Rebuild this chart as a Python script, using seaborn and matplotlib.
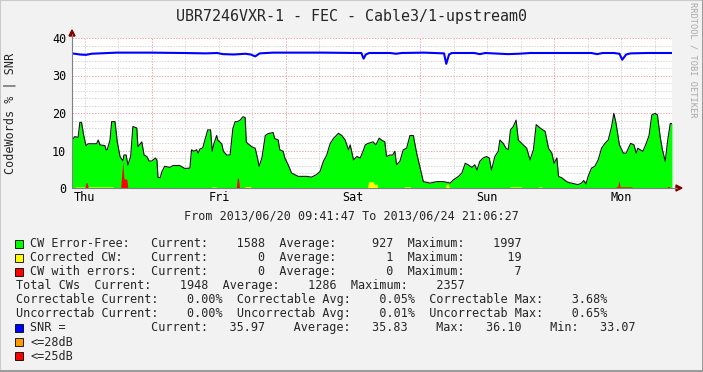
"""UBR7246VXR-1 FEC / SNR graph, RRDtool look-alike."""

import matplotlib

matplotlib.use("Agg")
import matplotlib.pyplot as plt
import numpy as np
import seaborn as sns
from matplotlib.lines import Line2D
from matplotlib.patches import Polygon, Rectangle

# time axis: hours since 2013/06/20 09:41:47
span_h = 107.411
days = ["Thu", "Fri", "Sat", "Sun", "Mon"]
noon_h = [2.303, 26.303, 50.303, 74.303, 98.303]
midnight_h = [14.303, 38.303, 62.303, 86.303]

# CW error-free (%)
ok_t = [0.0, 0.5, 1.1, 1.4, 1.7, 2.1, 2.5, 2.9, 4.4, 4.7,
        5.0, 5.9, 6.1, 6.3, 6.8, 7.1, 7.7, 8.1, 8.6, 9.1,
        9.3, 9.7, 10.0, 10.5, 10.9, 11.6, 11.8, 12.5, 12.9, 13.4,
        13.8, 14.3, 14.9, 15.2, 15.4, 15.8, 16.1, 16.6, 17.5, 18.1,
        19.3, 20.2, 21.1, 21.4, 21.8, 22.3, 22.6, 22.9, 23.4, 23.8,
        24.3, 24.8, 25.1, 25.4, 25.9, 26.1, 26.8, 27.1, 27.7, 28.3,
        28.8, 29.2, 29.6, 30.1, 30.6, 31.0, 31.2, 31.5, 32.2, 32.8,
        33.2, 33.5, 34.0, 34.6, 35.1, 36.0, 36.3, 36.9, 37.2, 37.8,
        38.1, 38.7, 39.3, 40.5, 42.0, 42.9, 43.8, 44.4, 45.0, 45.6,
        46.2, 46.8, 47.7, 48.3, 48.9, 49.5, 49.8, 50.4, 51.0, 51.6,
        52.1, 52.5, 53.0, 53.9, 54.4, 55.0, 55.4, 56.0, 56.3, 56.9,
        57.4, 57.8, 58.1, 58.7, 59.3, 59.9, 60.5, 61.1, 61.7, 62.4,
        62.9, 64.1, 65.3, 66.5, 67.7, 68.3, 69.2, 69.8, 70.4, 70.9,
        71.6, 72.1, 72.5, 73.0, 73.6, 74.2, 74.7, 75.1, 75.7, 76.3,
        76.6, 77.2, 77.7, 78.1, 78.5, 79.0, 79.5, 79.9, 80.5, 81.4,
        82.0, 82.6, 83.1, 83.8, 84.7, 85.3, 85.9, 86.3, 86.8, 87.1,
        87.7, 88.3, 88.8, 89.7, 90.6, 91.2, 91.6, 92.0, 92.4, 93.0,
        93.6, 94.2, 94.8, 95.4, 96.0, 96.6, 97.0, 97.4, 98.0, 98.7,
        99.2, 100.0, 100.6, 101.0, 101.3, 101.7, 102.2, 102.8, 103.3, 103.8,
        104.4, 104.8, 105.3, 105.7, 106.2, 106.6, 107.1, 107.4]
ok_v = [12.8, 13.7, 13.5, 17.5, 17.5, 14.0, 11.3, 11.8, 11.8, 12.8,
        11.5, 11.3, 10.2, 10.2, 12.8, 17.7, 17.7, 12.3, 8.4, 7.2,
        8.8, 8.8, 6.1, 8.4, 16.4, 16.0, 11.0, 12.3, 8.8, 8.4,
        7.2, 7.2, 8.0, 7.5, 2.8, 2.8, 4.4, 5.8, 5.5, 6.0,
        6.0, 5.2, 5.3, 10.2, 9.8, 10.2, 9.3, 10.4, 10.7, 12.8,
        15.5, 15.5, 9.8, 11.8, 14.0, 12.8, 11.8, 9.8, 8.8, 8.8,
        15.9, 17.7, 17.7, 18.1, 19.0, 18.8, 12.3, 11.8, 11.0, 10.6,
        8.0, 5.8, 8.0, 14.0, 14.5, 14.8, 13.2, 12.8, 10.2, 9.8,
        8.0, 6.2, 4.0, 3.1, 3.1, 2.9, 3.6, 4.4, 7.1, 8.8,
        11.8, 13.2, 14.6, 14.0, 12.8, 10.2, 11.5, 7.5, 8.4, 8.0,
        9.8, 11.5, 11.9, 12.3, 11.5, 13.3, 12.8, 12.3, 8.4, 8.8,
        8.8, 9.8, 6.2, 7.1, 10.2, 10.6, 14.0, 14.0, 9.3, 4.8,
        1.7, 1.3, 1.7, 1.7, 1.3, 2.2, 3.1, 4.0, 6.6, 6.2,
        5.5, 6.2, 4.8, 7.1, 8.0, 8.4, 8.0, 4.8, 8.4, 9.8,
        12.8, 11.9, 10.6, 10.2, 15.5, 16.4, 18.1, 12.8, 11.9, 10.6,
        7.5, 10.2, 16.9, 16.0, 15.1, 10.6, 9.3, 6.6, 8.0, 3.1,
        2.7, 2.0, 1.5, 1.2, 0.9, 1.3, 2.0, 1.1, 3.1, 5.3,
        5.8, 7.5, 10.6, 11.9, 12.8, 16.4, 19.9, 17.2, 11.5, 9.3,
        9.3, 11.9, 11.5, 9.3, 10.6, 10.2, 9.8, 11.9, 14.0, 19.5,
        19.9, 19.5, 13.6, 10.2, 7.1, 12.3, 17.2, 17.2]

# corrected CW (%)
corr_t = [0.0, 0.6, 0.6, 7.4, 7.4, 25.0, 25.0, 25.8, 25.8, 31.0,
          31.0, 32.0, 32.0, 52.9, 53.1, 53.9, 54.1, 54.6, 54.7, 59.5,
          59.5, 60.6, 60.6, 66.9, 67.0, 67.4, 67.5, 78.4, 78.4, 80.5,
          80.5, 83.5, 83.5, 84.1, 84.1, 107.4]
corr_v = [0, 0, 0.3, 0.3, 0, 0, 0.3, 0.3, 0, 0,
          0.4, 0.4, 0, 0, 1.7, 1.7, 1.0, 1.0, 0, 0,
          0.3, 0.3, 0, 0, 1.0, 1.0, 0, 0, 0.3, 0.3,
          0, 0, 0.3, 0.3, 0, 0]

# CW with errors (%)
err_t = [0.0, 2.3, 2.5, 2.7, 2.9, 8.7, 9.1, 9.3, 9.8, 10.0,
         29.4, 29.6, 29.8, 30.0, 97.3, 97.4, 97.7, 97.9, 98.1, 100.2,
         100.3, 106.5, 106.6, 106.9, 107.0, 107.4]
err_v = [0, 0, 1.4, 1.4, 0, 0, 7.0, 2.4, 2.4, 0,
         0, 2.6, 2.6, 0, 0, 0.3, 0.3, 2.1, 0.3, 0.3,
         0, 0, 0.4, 0.4, 0, 0]

# SNR (dB)
snr_t = [0.0, 1.4, 2.5, 3.5, 5.0, 8.0, 14.0, 20.0, 24.0, 26.0,
         27.0, 29.0, 31.0, 32.0, 32.8, 33.6, 36.0, 45.0, 51.0, 51.8,
         52.2, 52.6, 53.2, 57.0, 58.0, 59.0, 63.0, 66.6, 67.0, 67.5,
         68.0, 72.0, 73.0, 74.0, 78.0, 80.0, 82.0, 90.0, 93.0, 94.0,
         95.0, 97.0, 98.0, 98.5, 99.2, 100.0, 103.0, 107.4]
snr_v = [35.9, 35.6, 35.5, 35.8, 35.9, 36.1, 36.1, 36.0, 35.9, 36.0,
         35.7, 35.6, 35.8, 35.6, 35.1, 35.9, 36.1, 36.1, 36.0, 36.0,
         34.5, 35.6, 36.0, 36.0, 35.8, 36.0, 36.1, 35.9, 33.1, 35.6,
         36.0, 36.0, 35.7, 36.0, 35.7, 35.8, 36.0, 36.0, 36.0, 35.7,
         36.0, 36.0, 35.8, 34.2, 35.6, 35.9, 36.0, 36.0]

# legend statistics
cw_names = ["CW Error-Free:", "Corrected CW:", "CW with errors:"]
cw_cur = [1588, 0, 0]
cw_avg = [927, 1, 0]
cw_max = [1997, 19, 7]
cw_colors = ["#00FF00", "#FFFF00", "#FF0000"]
total_stats = [1948, 1286, 2357]
pct_names = ["Correctable", "Uncorrectab"]
pct_cur = [0.00, 0.00]
pct_avg = [0.05, 0.01]
pct_max = [3.68, 0.65]
snr_stats = [35.97, 35.83, 36.10, 33.07]
thresh_names = ["<=28dB", "<=25dB"]
thresh_colors = ["#FF9900", "#FF0000"]

W, H = 703, 372
MONO = "DejaVu Sans Mono"

sns.set_theme(style="white")
plt.rcParams["font.family"] = MONO


def fx(px):
    return px / W


def fy(py):
    return 1 - py / H


fig = plt.figure(figsize=(W / 100, H / 100), dpi=100)
fig.patch.set_facecolor("#F2F2F2")

ax = fig.add_axes([fx(72), fy(188), 600 / W, 150 / H])
ax.set_facecolor("white")
ax.set_xlim(0, span_h)
ax.set_ylim(0, 40)
ax.set_axisbelow(True)

ax.fill_between(ok_t, ok_v, color="#00FF00", lw=0, zorder=2)
sns.lineplot(x=ok_t, y=ok_v, color="#101010", lw=0.8, ax=ax, zorder=3)
ax.fill_between(corr_t, corr_v, color="#FFFF00", lw=0, zorder=4)
ax.fill_between(err_t, err_v, color="#FF0000", lw=0, zorder=5)
sns.lineplot(x=snr_t, y=snr_v, color="#0000FF", lw=1.5, ax=ax, zorder=6)

# dotted grid
dot = (0, (1.4, 1.4))
ax.set_yticks(np.arange(0, 41, 10))
ax.set_yticks(np.arange(0, 41, 2), minor=True)
ax.set_xticks(midnight_h)
ax.set_xticks(np.arange(noon_h[0], span_h, 6), minor=True)
ax.xaxis.set_ticklabels([])
ax.grid(False)
major_kw = dict(color="#F2A8A8", lw=0.72, ls=dot)
minor_kw = dict(color="#D6D6D6", lw=0.72, ls=dot)
ax.yaxis.grid(True, which="major", **major_kw)
ax.yaxis.grid(True, which="minor", **minor_kw)
ax.xaxis.grid(True, which="major", **major_kw)
ax.xaxis.grid(True, which="minor", **minor_kw)
ax.tick_params(axis="both", which="both", direction="out", color="#808080",
               width=0.7, length=1.6, pad=2.5, labelsize=8.5, labelcolor="black")
ax.set_xlabel("")
ax.set_ylabel("")
for s in ax.spines.values():
    s.set_visible(False)

for d, h in zip(days, noon_h):
    ax.text(h, -0.065, d, transform=ax.get_xaxis_transform(), ha="center",
            va="center", fontsize=8.5, color="black")

# axes with arrows
fig.add_artist(Line2D([fx(72), fx(72)], [fy(188), fy(34)], color="#808080", lw=0.8))
fig.add_artist(Line2D([fx(72), fx(677)], [fy(188), fy(188)], color="#808080", lw=0.8))
fig.add_artist(Polygon([[fx(72), fy(30)], [fx(69), fy(36)], [fx(75), fy(36)]],
                       closed=True, color="#800000", transform=fig.transFigure))
fig.add_artist(Polygon([[fx(682), fy(188)], [fx(676), fy(185)], [fx(676), fy(191)]],
                       closed=True, color="#800000", transform=fig.transFigure))

# titles
fig.text(fx(351), fy(16), "UBR7246VXR-1 - FEC - Cable3/1-upstream0",
         ha="center", va="center", fontsize=10.8)
fig.text(fx(10), fy(113), "CodeWords % | SNR", rotation=90,
         ha="center", va="center", fontsize=8.5)
fig.text(fx(693), fy(60), "RRDTOOL / TOBI OETIKER", rotation=270,
         ha="center", va="center", fontsize=6.2, color="#A8A8A8")
fig.text(fx(351), fy(215.5), "From 2013/06/20 09:41:47 To 2013/06/24 21:06:27",
         ha="center", va="center", fontsize=8.5)


def swatch(row_y, color):
    fig.add_artist(Rectangle((fx(15), fy(row_y + 4)), 8 / W, 8 / H, facecolor=color,
                             edgecolor="black", lw=0.6, transform=fig.transFigure))


def row(row_y, x, s):
    fig.text(fx(x), fy(row_y), s, ha="left", va="center", fontsize=8.5)


y0, dy = 244, 14
for i, name in enumerate(cw_names):
    ry = y0 + i * dy
    swatch(ry, cw_colors[i])
    row(ry, 30.5, f"{name:<17s}Current:{cw_cur[i]:8d}  Average:{cw_avg[i]:8d}"
                  f"  Maximum:{cw_max[i]:8d}")
ry = y0 + 3 * dy
row(ry, 16.5, f"Total CWs  Current:{total_stats[0]:8d}  Average:{total_stats[1]:8d}"
              f"  Maximum:{total_stats[2]:8d}")
for i, name in enumerate(pct_names):
    ry = y0 + (4 + i) * dy
    row(ry, 16.5, f"{name} Current:{pct_cur[i]:8.2f}%  {name} Avg:{pct_avg[i]:8.2f}%"
                  f"  {name} Max:{pct_max[i]:8.2f}%")
ry = y0 + 6 * dy
swatch(ry, "#0000FF")
row(ry, 30.5, f"{'SNR =':<17s}Current:{snr_stats[0]:8.2f}    Average:{snr_stats[1]:8.2f}"
              f"    Max:{snr_stats[2]:8.2f}    Min:{snr_stats[3]:8.2f}")
for i, name in enumerate(thresh_names):
    ry = y0 + (7 + i) * dy
    swatch(ry, thresh_colors[i])
    row(ry, 30.5, name)

# 3d-ish frame
fig.add_artist(Line2D([0, 0, 1], [0, 1, 1], color="#CACACA", lw=1.5))
fig.add_artist(Line2D([0, 1, 1], [0.003, 0.003, 1], color="#9C9C9C", lw=2.2))

fig.savefig("out.png", dpi=100, facecolor=fig.get_facecolor())
plt.close(fig)
